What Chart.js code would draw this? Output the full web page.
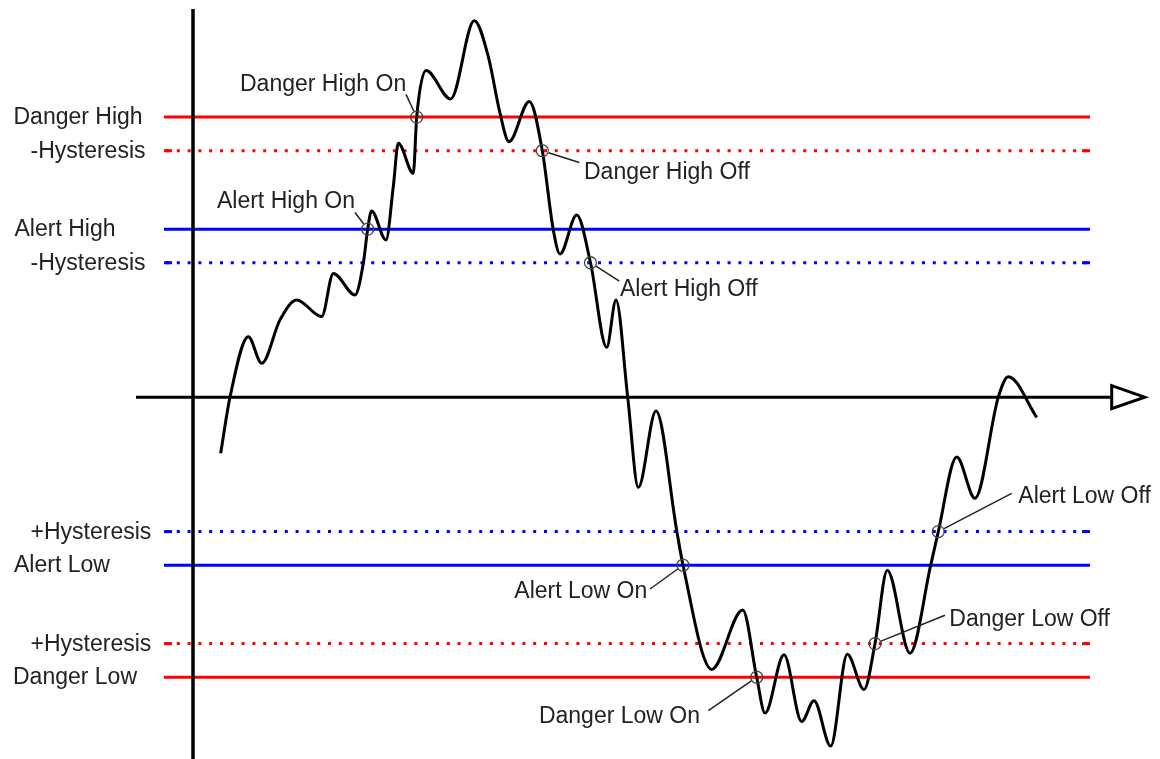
<!DOCTYPE html>
<html><head><meta charset="utf-8">
<script src="https://cdn.jsdelivr.net/npm/chart.js@4/dist/chart.umd.min.js"></script>
<style>html,body{margin:0;padding:0;background:#fff;overflow:hidden}canvas{display:block}</style>
</head><body>
<canvas id="c" width="1160" height="759"></canvas>
<script>
// ---- data ----
const signalX = [2.77, 3.7, 5.53, 6.87, 8.7, 10.37, 12.87, 14.03, 16.2, 17.03, 17.47, 17.85, 19.3, 20.03, 20.53, 22.03, 22.37, 23.3, 25.77, 28.13, 29.53, 30.7, 31.6, 33.63, 34.93, 36.03, 36.7, 38.37, 39.75, 41.37, 42.3, 43.47, 44.53, 46.3, 48.37, 49.0, 51.87, 54.97, 56.37, 57.2, 59.1, 60.87, 62.1, 63.77, 65.43, 67.1, 68.2, 69.43, 71.7, 73.77, 74.53, 76.37, 78.2, 80.53, 81.53, 84.37];
const signalY = [-10.0, 0.0, 10.8, 6.05, 13.8, 17.36, 14.4, 22.1, 18.25, 23.9, 30, 33.25, 28.07, 37.6, 45.34, 39.98, 50, 58.3, 53.25, 67.2, 60.8, 50.7, 45.6, 52.8, 44, 29.86, 25.57, 32.5, 24, 8.9, 17.36, 0.0, -16.1, -2.46, -23.8, -30, -48.6, -38.0, -50, -56.4, -46.0, -57.9, -54.2, -62.3, -45.9, -52.2, -44, -30.9, -45.7, -30.0, -24, -10.7, -18.05, 0.0, 3.66, -3.6];

const levelNames  = ['Danger High', '-Hysteresis', 'Alert High', '-Hysteresis', '+Hysteresis', 'Alert Low', '+Hysteresis', 'Danger Low'];
const levelValues = [50, 44, 30, 24, -24, -30, -44, -50];
const levelSpanX  = [-2.9, 89.7];

const eventNames = ['Alert High On', 'Danger High On', 'Danger High Off', 'Alert High Off', 'Alert Low On', 'Danger Low On', 'Danger Low Off', 'Alert Low Off'];
const eventX = [17.47, 22.37, 34.93, 39.75, 49.0, 56.37, 68.2, 74.53];
const eventY = [30, 50, 44, 24, -30, -50, -44, -24];

const timeAxisSpan = [-5.7, 91.87];

// ---- styles / layout ----
const RED = '#ff0000', BLUE = '#0000ff', INK = '#222222';
const FONT = '23px "Liberation Sans", Arial, Helvetica, sans-serif';
const levelStyle = [
  {c: RED, dot: false, indent: 13.5}, {c: RED, dot: true, indent: 30.5},
  {c: BLUE, dot: false, indent: 14.5}, {c: BLUE, dot: true, indent: 30.5},
  {c: BLUE, dot: true, indent: 30.5}, {c: BLUE, dot: false, indent: 14},
  {c: RED, dot: true, indent: 30.5}, {c: RED, dot: false, indent: 13}
];
const eventLayout = [
  {dx: -12.7, dy: -21.6, align: 'right', lx: -12.7, ly: -16.6},
  {dx: -10.5, dy: -26.5, align: 'right', lx: -10.7, ly: -22.7},
  {dx: 41.7, dy: 28, align: 'left', lx: 37, ly: 11.7},
  {dx: 29.5, dy: 33.3, align: 'left', lx: 28.8, ly: 18.3},
  {dx: -35.7, dy: 32.5, align: 'right', lx: -33, ly: 23.8},
  {dx: -56.7, dy: 46, align: 'right', lx: -48.4, ly: 33.3},
  {dx: 74.3, dy: -17.3, align: 'left', lx: 70, ly: -28.3},
  {dx: 80, dy: -28.3, align: 'left', lx: 73.4, ly: -38.3}
];
const Y_MIN = -64.6, Y_MAX = 69.3;

// ---- datasets ----
const datasets = [];
datasets.push({
  label: 'events',
  data: eventX.map((x, i) => ({x, y: eventY[i]})),
  showLine: false, pointRadius: 6, pointBorderWidth: 1.3,
  pointBorderColor: '#444', pointBackgroundColor: 'rgba(0,0,0,0)'
});
datasets.push({
  label: 'signal',
  data: signalX.map((x, i) => ({x, y: signalY[i]})),
  borderColor: '#000', borderWidth: 3, pointRadius: 0,
  cubicInterpolationMode: 'monotone', fill: false
});
datasets.push({
  label: 'vaxis', data: [{x: 0, y: Y_MAX}, {x: 0, y: Y_MIN}],
  borderColor: '#000', borderWidth: 3.5, pointRadius: 0
});
datasets.push({
  label: 'haxis', data: [{x: timeAxisSpan[0], y: 0}, {x: timeAxisSpan[1], y: 0}],
  borderColor: '#000', borderWidth: 3, pointRadius: 0
});
levelValues.forEach((v, i) => {
  const s = levelStyle[i];
  datasets.push({
    label: levelNames[i],
    data: [{x: levelSpanX[0], y: v}, {x: levelSpanX[1], y: v}],
    borderColor: s.c, borderWidth: 3, pointRadius: 0,
    borderDash: s.dot ? [3, 7.8] : [], borderDashOffset: s.dot ? -2 : 0,
    borderCapStyle: 'butt'
  });
});

const decor = {
  id: 'decor',
  afterDatasetsDraw(chart) {
    const ctx = chart.ctx, xs = chart.scales.x, ys = chart.scales.y;
    ctx.save();
    levelValues.forEach((v, i) => {
      if (!levelStyle[i].dot) return;
      const y = ys.getPixelForValue(v);
      const x0 = xs.getPixelForValue(levelSpanX[0]), x1 = xs.getPixelForValue(levelSpanX[1]);
      ctx.fillStyle = levelStyle[i].c;
      ctx.fillRect(x0, y - 1.5, 8, 3);
      ctx.fillRect(x1 - 8, y - 1.5, 8, 3);
    });
    const ax = xs.getPixelForValue(timeAxisSpan[1]), ay = ys.getPixelForValue(0);
    ctx.beginPath();
    ctx.moveTo(ax, ay - 11.5); ctx.lineTo(ax + 33, ay); ctx.lineTo(ax, ay + 11.5); ctx.closePath();
    ctx.fillStyle = '#fff'; ctx.fill();
    ctx.lineWidth = 3; ctx.strokeStyle = '#000'; ctx.lineJoin = 'miter'; ctx.stroke();
    ctx.font = FONT; ctx.fillStyle = INK; ctx.textBaseline = 'alphabetic'; ctx.textAlign = 'left';
    levelNames.forEach((t, i) => {
      ctx.fillText(t, levelStyle[i].indent, ys.getPixelForValue(levelValues[i]) + 7);
    });
    eventNames.forEach((t, i) => {
      const cx = xs.getPixelForValue(eventX[i]), cy = ys.getPixelForValue(eventY[i]);
      const L = eventLayout[i];
      const d = Math.hypot(L.lx, L.ly);
      ctx.beginPath();
      ctx.moveTo(cx + L.lx / d * 6.5, cy + L.ly / d * 6.5);
      ctx.lineTo(cx + L.lx, cy + L.ly);
      ctx.lineWidth = 1.5; ctx.strokeStyle = INK; ctx.stroke();
      ctx.textAlign = L.align;
      ctx.fillText(t, cx + L.dx, cy + L.dy);
    });
    ctx.restore();
  }
};

new Chart(document.getElementById('c'), {
  type: 'line',
  data: {datasets},
  options: {
    responsive: false, animation: false, devicePixelRatio: 1, events: [],
    layout: {autoPadding: false, padding: {top: 9, bottom: 0, left: 0, right: 0}},
    scales: {
      x: {type: 'linear', display: false, min: -19.3, max: 96.7},
      y: {type: 'linear', display: false, min: Y_MIN, max: Y_MAX}
    },
    plugins: {legend: {display: false}, tooltip: {enabled: false}},
    elements: {line: {tension: 0}}
  },
  plugins: [decor]
});
</script>
</body></html>
